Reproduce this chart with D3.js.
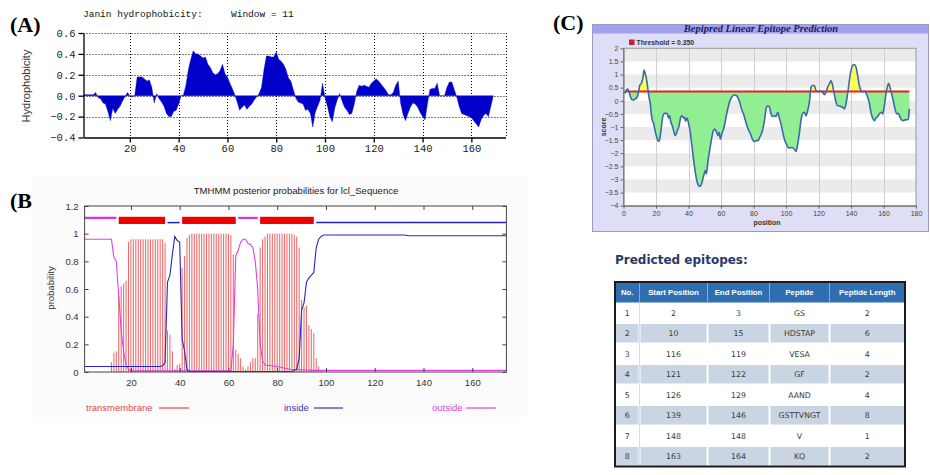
<!DOCTYPE html>
<html><head><meta charset="utf-8">
<script src="https://cdn.jsdelivr.net/npm/d3@7"></script>
<style>body{margin:0;background:#fff;} svg{display:block;}</style>
</head><body>
<svg id="chart" width="930" height="475"></svg>
<script>
// ---------------- DATA ----------------
// (A) Janin hydrophobicity, window 11, residues 1..169
const hydroValues = [
0.01,0.01,0.01,0.01,0.01,0.03,-0.02,-0.03,-0.07,-0.08,
-0.15,-0.24,-0.12,-0.17,-0.13,-0.1,-0.05,-0.01,0.03,0.0,
-0.01,0.0,0.18,0.18,0.18,0.16,0.14,0.15,0.08,-0.07,
0.02,-0.03,-0.06,-0.1,-0.17,-0.2,-0.2,-0.15,-0.14,-0.08,
0.0,0.01,0.1,0.25,0.35,0.43,0.4,0.4,0.38,0.36,
0.37,0.3,0.27,0.22,0.2,0.21,0.24,0.3,0.21,0.18,
0.12,0.07,0.01,-0.06,-0.14,-0.11,-0.09,-0.13,-0.1,-0.08,
-0.04,-0.01,0.02,0.08,0.25,0.38,0.38,0.37,0.37,0.42,
0.35,0.33,0.3,0.25,0.17,0.14,0.06,-0.02,-0.06,-0.07,
-0.08,-0.14,-0.13,-0.17,-0.3,-0.16,-0.1,-0.04,0.12,-0.02,
-0.1,-0.2,-0.25,-0.12,-0.04,0.02,-0.05,-0.11,-0.14,-0.18,
-0.17,-0.08,0.04,0.1,0.09,0.1,0.09,0.08,0.12,0.14,
0.16,0.14,0.11,0.08,0.05,0.01,0.01,0.03,0.1,0.14,
-0.07,-0.18,-0.24,-0.17,-0.11,-0.07,-0.08,-0.11,-0.16,-0.2,
-0.23,-0.08,0.06,0.07,0.07,0.12,0.0,0.0,0.0,0.08,
0.13,0.13,0.06,-0.01,-0.1,-0.17,-0.18,-0.19,-0.2,-0.21,
-0.24,-0.27,-0.3,-0.23,-0.19,-0.17,-0.2,-0.1,0.0
];
const hydroTicks = [-0.4,-0.2,0,0.2,0.4,0.6];
const positionTicks = [20,40,60,80,100,120,140,160];

// (B) TMHMM posterior probabilities
const tmProb = [ // residues 1..98 (zero afterwards)
0,0,0,0,0,0,0,0,0,0,
0,0.07,0.14,0.15,0.55,0.62,0.64,0.66,0.94,0.96,
0.96,0.96,0.96,0.96,0.96,0.96,0.96,0.96,0.96,0.96,
0.96,0.96,0.96,0.93,0.3,0.27,0.15,0.02,0.05,0.06,
0.75,0.84,0.97,0.99,1,1,1,1,1,1,
1,1,1,1,1,1,1,1,1,1,
0.99,0.85,0.16,0.13,0.1,0.04,0.02,0.04,0.07,0.1,
0.1,0.42,0.9,0.96,0.98,1,1,1,1,1,
1,1,1,1,1,1,0.99,0.98,0.9,0.52,
0.47,0.48,0.34,0.31,0.28,0.1,0.04,0.01
];
const insideLine = [[1,0.04],[32,0.04],[33,0.045],[34,0.07],[35,0.65],[36,0.7],[37,0.85],[38,0.98],[39,0.95],[40,0.94],[41,0.24],[42,0.15],[43,0.02],[44,0.004],[86,0.004],[87,0.01],[88,0.02],[89,0.1],[90,0.45],[91,0.5],[92,0.65],[93,0.68],[94,0.7],[95,0.72],[96,0.9],[97,0.96],[98,0.98],[99,0.99],[132,0.99],[134,0.985],[174,0.985]];
const outsideLine = [[1,0.96],[12,0.96],[13,0.83],[14,0.8],[15,0.55],[16,0.3],[17,0.15],[18,0.05],[19,0.02],[20,0.008],[61,0.008],[62,0.2],[63,0.84],[64,0.88],[65,0.94],[66,0.96],[67,0.96],[68,0.93],[69,0.92],[70,0.9],[71,0.8],[72,0.6],[73,0.2],[74,0.08],[75,0.05],[80,0.04],[85,0.02],[95,0.012],[174,0.012]];
const topoStart = [1,15,35,41,64,73,96];
const topoEnd   = [14,34,40,63,72,95,174];
const topoType  = ["outside","TMhelix","inside","TMhelix","outside","TMhelix","inside"];
const probTicks = [0,0.2,0.4,0.6,0.8,1,1.2];

// (C) Bepipred linear epitope prediction
const threshold = 0.35;
const epitopeCurve = [
[0.7,0.28],[1.75,0.41],[2.8,0.45],[3.8,0.26],[4.8,0.07],[5.9,0.03],[6.9,0.06],[7.9,0.1],[8.9,0.23],[9.5,0.41],
[10,0.58],[11,0.67],[12,0.89],[12.6,1.17],[13.4,1.02],[14.3,0.77],[15.1,0.39],[15.7,0.13],[16.5,-0.12],[17.1,-0.5],
[17.7,-0.73],[18.6,-0.88],[19.2,-1.07],[20,-1.29],[20.8,-1.46],[21.6,-1.55],[22.5,-1.39],[23.3,-1.01],[24.3,-0.57],[25.3,-0.48],
[26.8,-0.48],[27.8,-0.66],[28.4,-0.57],[29,-0.78],[30,-0.95],[31.1,-1.2],[31.9,-1.33],[33.1,-1.14],[34.2,-0.95],[35.2,-0.63],
[36,-0.57],[37,-0.66],[37.6,-0.63],[38.3,-0.78],[39.1,-0.66],[40.1,-0.88],[41.1,-1.2],[42.2,-1.77],[43.2,-2.28],[44.2,-2.73],
[45.2,-3.07],[46.3,-3.24],[47.3,-3.26],[48.3,-3.11],[49.3,-2.86],[50.4,-2.66],[51,-2.79],[52,-2.28],[53,-1.9],[54,-1.52],
[55.1,-1.17],[56.1,-1.08],[57.1,-1.17],[58.2,-1.33],[58.8,-1.2],[59.6,-1.46],[60.6,-1.24],[61.9,-1.01],[62.9,-0.69],[63.9,-0.38],
[64.9,-0.12],[66,0.07],[67,0.17],[68.4,0.22],[69.4,0.2],[70.5,0.11],[71.5,-0.06],[72.5,-0.28],[74.2,-0.57],[75.6,-0.88],
[76.6,-1.07],[78,-1.24],[79.3,-1.46],[80.3,-1.56],[81.7,-1.52],[82.8,-1.52],[83.8,-1.39],[84.8,-1.27],[85.8,-1.07],[86.9,-0.69],
[87.9,-0.25],[88.7,-0.2],[89.7,-0.22],[90.8,-0.5],[91.8,-0.6],[92.8,-0.57],[93.8,-0.6],[94.9,-0.44],[95.9,-0.66],[96.9,-0.88],
[97.9,-1.17],[99,-1.46],[100,-1.62],[101,-1.75],[102,-1.8],[103.7,-1.78],[105.1,-1.84],[106.2,-1.93],[107.2,-1.65],[108.2,-1.24],
[109.2,-0.76],[110.3,-0.48],[111.3,-0.44],[112.3,-0.57],[113.3,-0.38],[114.4,-0.06],[115.4,0.51],[116.4,0.58],[117.4,0.58],[118.5,0.39],
[119.5,0.35],[120.5,0.36],[121.5,0.37],[122.6,0.32],[123.6,0.23],[124.6,0.32],[125.6,0.51],[126.7,0.64],[127.7,0.77],[128.7,0.58],
[129.7,0.26],[130.8,-0.06],[131.8,-0.19],[132.8,-0.19],[133.8,-0.22],[134.9,-0.25],[135.9,-0.31],[136.9,-0.12],[137.9,0.26],[139,0.77],
[140,1.15],[141,1.34],[142,1.38],[143.1,1.28],[144.1,0.96],[145.1,0.58],[146.2,0.39],[147.2,0.34],[148.2,0.37],[149.2,0.3],
[150.3,0.13],[151.3,-0.1],[152.3,-0.44],[153.3,-0.66],[154.4,-0.76],[155.4,-0.66],[156.4,-0.6],[157.4,-0.5],[158.5,-0.44],[159.5,-0.5],
[160.5,-0.19],[161.5,0.26],[162.6,0.58],[163.2,0.67],[164,0.51],[165,0.26],[166,0.0],[167.1,-0.31],[168.1,-0.5],[169.1,-0.48],
[170.2,-0.63],[171.2,-0.73],[172.2,-0.76],[173.2,-0.73],[174.3,-0.73],[175.3,-0.69],[175.9,-0.31]
];
const scoreTicks = [-4,-3.5,-3,-2.5,-2,-1.5,-1,-0.5,0,0.5,1,1.5,2];
const epiPosTicks = [0,20,40,60,80,100,120,140,160,180];

// Predicted epitopes table
const tableHeader = ["No.","Start Position","End Position","Peptide","Peptide Length"];
const epiNo     = [1,2,3,4,5,6,7,8];
const epiStart  = [2,10,116,121,126,139,148,163];
const epiEnd    = [3,15,119,122,129,146,148,164];
const epiPeptide= ["GS","HDSTAP","VESA","GF","AAND","GSTTVNGT","V","KQ"];
const epiLength = [2,6,4,2,4,8,1,2];

// ---------------- DRAW ----------------
const svg = d3.select("#chart");
const serif = "'Liberation Serif','Times New Roman',serif";
const mono = "'Liberation Mono','Courier New',monospace";
const sans = "'Liberation Sans',Arial,sans-serif";

// panel letters
[["(A)",10,32],["(B)",10,208],["(C)",553,30]].forEach(([t,x,y])=>{
  svg.append("text").attr("x",x).attr("y",y).text(t)
    .attr("font-family",serif).attr("font-weight","bold").attr("font-size",22).attr("fill","#000");
});

// ===== Panel A =====
const xA = d3.scaleLinear().domain([1,174]).range([83.5,505.5]);
const yA = d3.scaleLinear().domain([-0.4,0.6]).range([137.5,33]);
const gA = svg.append("g");
gA.selectAll("line.hg").data(hydroTicks.filter(d=>d>-0.4)).join("line")
  .attr("x1",xA.range()[0]).attr("x2",xA.range()[1])
  .attr("y1",d=>Math.round(yA(d))+0.5).attr("y2",d=>Math.round(yA(d))+0.5)
  .attr("stroke","#000").attr("stroke-dasharray","1,2");
gA.selectAll("line.vg").data(positionTicks.concat([174])).join("line")
  .attr("x1",d=>Math.round(xA(d))+0.5).attr("x2",d=>Math.round(xA(d))+0.5)
  .attr("y1",yA(0.6)).attr("y2",yA(-0.4))
  .attr("stroke","#000").attr("stroke-dasharray","1,2");
const hydroData = hydroValues.map((v,i)=>({r:i+1,v}));
gA.append("path").datum(hydroData)
  .attr("d", d3.area().x(d=>xA(d.r)).y0(yA(0)).y1(d=>yA(d.v)))
  .attr("fill","#0000c8").attr("stroke","#0000c8").attr("stroke-width",0.4);
const axAL = gA.append("g").attr("transform","translate(83.5,0)")
  .call(d3.axisLeft(yA).tickValues(hydroTicks).tickSize(5).tickSizeOuter(0).tickPadding(3).tickFormat(d3.format(".1f")));
const axAB = gA.append("g").attr("transform","translate(0,137.5)")
  .call(d3.axisBottom(xA).tickValues(positionTicks).tickSize(5).tickSizeOuter(0).tickPadding(2));
[axAL,axAB].forEach(a=>{
  a.attr("font-family",mono).attr("font-size",10.5);
  a.selectAll("path,line").attr("stroke","#000").attr("stroke-width",1.3);
  a.selectAll("text").attr("fill","#222");
});
gA.append("text").attr("x",83).attr("y",17).text("Janin hydrophobicity:")
  .attr("font-family",mono).attr("font-size",9.5).attr("fill","#111");
gA.append("text").attr("x",231).attr("y",17).text("Window = 11")
  .attr("font-family",mono).attr("font-size",9.5).attr("fill","#111");
gA.append("text").attr("transform","translate(30,86) rotate(-90)").attr("text-anchor","middle")
  .text("Hydrophobicity").attr("font-family",sans).attr("font-size",11).attr("fill","#333");

// ===== Panel B =====
const xB = d3.scaleLinear().domain([1,174]).range([84.6,506.4]);
const yB = d3.scaleLinear().domain([0,1.2]).range([372,206]);
const gB = svg.append("g");
gB.append("rect").attr("x",32).attr("y",177).attr("width",495).attr("height",240).attr("fill","#fbfbfb");
gB.append("rect").attr("x",84.6).attr("y",206).attr("width",506.4-84.6).attr("height",166).attr("fill","#fff");
// TM probability bars
gB.selectAll("line.tm").data(tmProb.map((v,i)=>({r:i+1,v})).filter(d=>d.v>0)).join("line")
  .attr("x1",d=>xB(d.r)).attr("x2",d=>xB(d.r)).attr("y1",yB(0)).attr("y2",d=>yB(d.v))
  .attr("stroke","#ec6f6f").attr("stroke-width",1.1);
const lineB = d3.line().x(d=>xB(d[0])).y(d=>yB(d[1]));
gB.append("path").datum(outsideLine).attr("d",lineB).attr("fill","none").attr("stroke","#e040e0").attr("stroke-width",1.1);
gB.append("path").datum(insideLine).attr("d",lineB).attr("fill","none").attr("stroke","#2626c8").attr("stroke-width",1.1);
// topology bar
topoType.forEach((t,i)=>{
  const x0 = xB(topoStart[i]), x1 = xB(topoEnd[i]);
  if(t==="TMhelix"){
    gB.append("rect").attr("x",x0).attr("y",yB(1.122)).attr("width",x1-x0).attr("height",yB(1.07)-yB(1.122)).attr("fill","#ee0000");
  } else if(t==="outside"){
    gB.append("line").attr("x1",x0).attr("x2",x1).attr("y1",yB(1.114)).attr("y2",yB(1.114)).attr("stroke","#dd33dd").attr("stroke-width",2.2);
  } else {
    gB.append("line").attr("x1",x0).attr("x2",x1).attr("y1",yB(1.08)).attr("y2",yB(1.08)).attr("stroke","#2020c0").attr("stroke-width",1.5);
  }
});
gB.append("rect").attr("x",84.6).attr("y",206).attr("width",506.4-84.6).attr("height",166)
  .attr("fill","none").attr("stroke","#444").attr("stroke-width",1);
const axBB = gB.append("g").attr("transform","translate(0,372)")
  .call(d3.axisBottom(xB).tickValues(positionTicks).tickSize(-4).tickSizeOuter(0).tickPadding(7));
const axBT = gB.append("g").attr("transform","translate(0,206)")
  .call(d3.axisTop(xB).tickValues(positionTicks).tickSize(-4).tickSizeOuter(0).tickFormat(""));
const axBL = gB.append("g").attr("transform","translate(84.6,0)")
  .call(d3.axisLeft(yB).tickValues(probTicks).tickSize(-4).tickSizeOuter(0).tickPadding(6).tickFormat(d3.format("~g")));
const axBR = gB.append("g").attr("transform","translate(506.4,0)")
  .call(d3.axisRight(yB).tickValues(probTicks).tickSize(-4).tickSizeOuter(0).tickFormat(""));
[axBB,axBT,axBL,axBR].forEach(a=>{
  a.attr("font-family",sans).attr("font-size",9.5);
  a.select(".domain").remove();
  a.selectAll("line").attr("stroke","#444");
  a.selectAll("text").attr("fill","#333");
});
gB.append("text").attr("x",296).attr("y",194).attr("text-anchor","middle")
  .text("TMHMM posterior probabilities for lcl_Sequence").attr("font-family",sans).attr("font-size",9.6).attr("fill","#222");
gB.append("text").attr("transform","translate(54,288) rotate(-90)").attr("text-anchor","middle")
  .text("probability").attr("font-family",sans).attr("font-size",9.5).attr("fill","#333");
const legendB = [["transmembrane",86,159,189,"#e24a4a"],["inside",284,314,343,"#3434c8"],["outside",432,466,496,"#dd44dd"]];
legendB.forEach(([t,tx,l0,l1,c])=>{
  gB.append("text").attr("x",tx).attr("y",411).text(t).attr("font-family",sans).attr("font-size",9.5).attr("fill",c);
  gB.append("line").attr("x1",l0).attr("x2",l1).attr("y1",408).attr("y2",408).attr("stroke",c).attr("stroke-width",1.2);
});

// ===== Panel C =====
const xC = d3.scaleLinear().domain([0,180]).range([623.5,916]);
const yC = d3.scaleLinear().domain([-4,2]).range([205.7,48.3]);
const gC = svg.append("g");
gC.append("rect").attr("x",592.5).attr("y",24.5).attr("width",336).attr("height",207)
  .attr("fill","#dedef7").attr("stroke","#9a9ac4");
gC.append("rect").attr("x",593).attr("y",25).attr("width",335).attr("height",8.5).attr("fill","#a2a2ee");
gC.append("text").attr("x",761).attr("y",32.3).attr("text-anchor","middle")
  .text("Bepipred Linear Epitope Prediction").attr("font-family",serif)
  .attr("font-weight","bold").attr("font-style","italic").attr("font-size",10.5).attr("fill","#1c1c66");
gC.append("rect").attr("x",629).attr("y",39.5).attr("width",5.5).attr("height",5.5).attr("fill","#c8203a");
gC.append("text").attr("x",636.5).attr("y",45).text("Threshold = 0.350")
  .attr("font-family",sans).attr("font-weight","bold").attr("font-size",6.8).attr("fill","#333");
// plot background bands
gC.append("rect").attr("x",xC(0)).attr("y",yC(2)).attr("width",xC(180)-xC(0)).attr("height",yC(-4)-yC(2)).attr("fill","#fff");
const bandTops = scoreTicks.filter(d=>d>-4);
gC.selectAll("rect.band").data(bandTops.filter((d,i)=>(bandTops.length-1-i)%2===0)).join("rect")
  .attr("x",xC(0)).attr("width",xC(180)-xC(0)).attr("y",d=>yC(d)).attr("height",d=>yC(d-0.5)-yC(d)).attr("fill","#ebebeb");
gC.selectAll("line.vg").data(epiPosTicks.slice(1,-1)).join("line")
  .attr("x1",d=>Math.round(xC(d))+0.5).attr("x2",d=>Math.round(xC(d))+0.5).attr("y1",yC(2)).attr("y2",yC(-4))
  .attr("stroke","#cfcfcf").attr("stroke-width",1);
const thrY = yC(threshold);
const defs = svg.append("defs");
defs.append("clipPath").attr("id","above").append("rect").attr("x",xC(0)).attr("y",yC(2)).attr("width",xC(180)-xC(0)).attr("height",thrY-yC(2));
defs.append("clipPath").attr("id","below").append("rect").attr("x",xC(0)).attr("y",thrY).attr("width",xC(180)-xC(0)).attr("height",yC(-4)-thrY);
const areaC = d3.area().curve(d3.curveMonotoneX).x(d=>xC(d[0])).y0(thrY).y1(d=>yC(d[1]));
gC.append("path").datum(epitopeCurve).attr("d",areaC).attr("fill","#ffff55").attr("clip-path","url(#above)");
gC.append("path").datum(epitopeCurve).attr("d",areaC).attr("fill","#92ee92").attr("clip-path","url(#below)");
gC.append("line").attr("x1",xC(epitopeCurve[0][0])).attr("x2",xC(epitopeCurve[epitopeCurve.length-1][0]))
  .attr("y1",thrY).attr("y2",thrY).attr("stroke","#e82020").attr("stroke-width",2);
gC.append("path").datum(epitopeCurve).attr("d",d3.line().curve(d3.curveMonotoneX).x(d=>xC(d[0])).y(d=>yC(d[1])))
  .attr("fill","none").attr("stroke","#3c68b0").attr("stroke-width",1.6);
gC.append("rect").attr("x",xC(0)).attr("y",yC(2)).attr("width",xC(180)-xC(0)).attr("height",yC(-4)-yC(2))
  .attr("fill","none").attr("stroke","#999");
const axCL = gC.append("g").attr("transform",`translate(${xC(0)},0)`)
  .call(d3.axisLeft(yC).tickValues(scoreTicks).tickSize(3).tickSizeOuter(0).tickPadding(2).tickFormat(d3.format("~g")));
const axCB = gC.append("g").attr("transform",`translate(0,${yC(-4)})`)
  .call(d3.axisBottom(xC).tickValues(epiPosTicks).tickSize(3).tickSizeOuter(0).tickPadding(2.5));
[axCL,axCB].forEach(a=>{
  a.attr("font-family",sans).attr("font-size",7);
  a.selectAll("path,line").attr("stroke","#666");
  a.selectAll("text").attr("fill","#444");
});
gC.append("text").attr("transform","translate(606,127) rotate(-90)").attr("text-anchor","middle")
  .text("score").attr("font-family",sans).attr("font-weight","bold").attr("font-size",7).attr("fill","#333");
gC.append("text").attr("x",767).attr("y",224.5).attr("text-anchor","middle")
  .text("position").attr("font-family",sans).attr("font-weight","bold").attr("font-size",7).attr("fill","#333");

// ===== Table =====
const gT = svg.append("g");
gT.append("text").attr("x",615).attr("y",263.5).text("Predicted epitopes:")
  .attr("font-family","'DejaVu Sans',Verdana,sans-serif").attr("font-weight","bold").attr("font-size",12).attr("fill","#26386a");
const colEdges = [615,639.5,707.5,769.5,829.5,905];
const rowY = d3.scaleBand().domain(["h"].concat(epiNo)).range([282,466.5]);
gT.append("rect").attr("x",615).attr("y",282).attr("width",290).attr("height",rowY.bandwidth()).attr("fill","#2f6fb1");
epiNo.forEach((n,i)=>{
  if(n%2===0){
    for(let j=0;j<5;j++){
      gT.append("rect").attr("x",colEdges[j]+(j?1:0)).attr("y",rowY(n)+1)
        .attr("width",colEdges[j+1]-colEdges[j]-(j?1:0)-(j<4?1:0)).attr("height",rowY.bandwidth()-2).attr("fill","#c9d5e2");
    }
  }
});
gT.selectAll("line.hsep").data(colEdges.slice(1,-1)).join("line")
  .attr("x1",d=>d).attr("x2",d=>d).attr("y1",282).attr("y2",282+rowY.bandwidth())
  .attr("stroke","#86acd3").attr("stroke-width",1);
gT.append("line").attr("x1",639.5).attr("x2",639.5).attr("y1",282+rowY.bandwidth()).attr("y2",466.5).attr("stroke","#d6dde6");
tableHeader.forEach((h,j)=>{
  gT.append("text").attr("x",(colEdges[j]+colEdges[j+1])/2).attr("y",rowY("h")+rowY.bandwidth()/2+2.8)
    .attr("text-anchor","middle").text(h).attr("font-family",sans).attr("font-weight","bold").attr("font-size",7.8).attr("fill","#fff");
});
const cols = [epiNo,epiStart,epiEnd,epiPeptide,epiLength];
epiNo.forEach((n,i)=>{
  cols.forEach((arr,j)=>{
    gT.append("text").attr("x",(colEdges[j]+colEdges[j+1])/2).attr("y",rowY(n)+rowY.bandwidth()/2+3)
      .attr("text-anchor","middle").text(arr[i])
      .attr("font-family","'DejaVu Sans',Verdana,sans-serif").attr("font-size",7.8).attr("fill","#3a3a3a");
  });
});
gT.append("rect").attr("x",615).attr("y",282).attr("width",290).attr("height",184.5)
  .attr("fill","none").attr("stroke","#1a1a1a").attr("stroke-width",2);
</script>
</body></html>
